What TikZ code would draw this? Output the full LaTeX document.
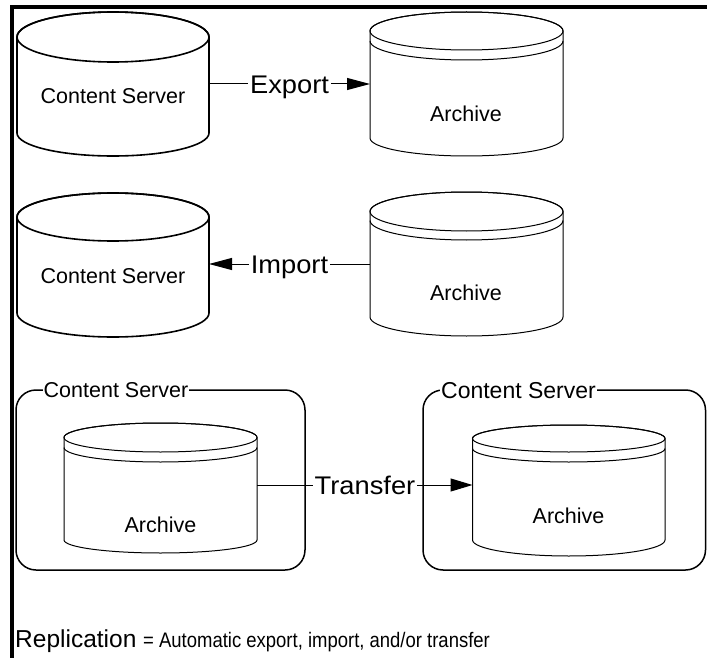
\documentclass[tikz,border=0pt]{standalone}
\usepackage{fontspec}
\setmainfont{Liberation Sans}
\newfontfamily\lblfont[FakeStretch=1.07]{Liberation Sans}
\newfontfamily\notefont[FakeStretch=0.88]{Liberation Sans}
\usetikzlibrary{arrows.meta}
\newcommand\cylshape[7]{%
  \pgfmathsetmacro\cylrx{(#2-#1)/2}%
  \pgfmathsetmacro\cylcx{(#2+#1)/2}%
  \draw[#7,fill=white] (#1,-#4) -- (#1,-#3) arc[start angle=180,end angle=0,x radius=\cylrx,y radius=#5] -- (#2,-#4) arc[start angle=0,end angle=-180,x radius=\cylrx,y radius=#6] -- cycle;
  \draw[#7] (\cylcx,-#3) ellipse[x radius=\cylrx,y radius=#5];
}
\newcommand\cylband[5]{%
  \pgfmathsetmacro\cylrx{(#2-#1)/2}%
  \draw[#5] (#1,-#3) arc[start angle=180,end angle=360,x radius=\cylrx,y radius=#4];
}
\begin{document}
\begin{tikzpicture}[x=1pt,y=1pt,
  thickline/.style={line width=1.6pt},
  thinline/.style={line width=1pt},
  body/.style={inner sep=0pt,outer sep=0pt,draw=none},
  cstext/.style={font=\fontsize{21.5}{21.5}\selectfont,inner sep=0pt,text height=15.4pt,text depth=0pt},
  lbl/.style={font=\lblfont\fontsize{25.5}{25.5}\selectfont,inner xsep=2pt,inner ysep=0pt,text height=18.2pt,text depth=0pt},
  boxlbl/.style={fill=white,inner xsep=1pt,inner ysep=1pt,text height=15.4pt,text depth=0pt},
  srvbox/.style={draw,line width=1.5pt,rounded corners=20pt,inner sep=0pt},
  conn/.style={line width=1pt},
  tip/.style={-{Triangle[length=23pt,width=12pt]}}
]
\useasboundingbox (0,0) rectangle (707,-658);
% frame
\draw[line width=3.5pt] (12,-658) -- (12,-7) -- (707,-7);

% row 1
\cylshape{17}{209}{37}{133}{25}{23}{thickline}
\node[body,minimum width=192pt,minimum height=96pt] (cs1) at (113,-85) {};
\node[cstext] (cs1t) at (113,-96) {Content Server};
\cylshape{370}{563}{31}{138}{19}{18}{thinline}
\cylband{370}{563}{41}{19}{thinline}
\node[body,minimum width=193pt,minimum height=106pt] (ar1) at (466.5,-84.5) {};
\node[cstext] (ar1t) at (466,-113.5) {Archive};
\node[lbl] (exp) at (289.5,-84) {Export};
\draw[conn] (cs1.east |- exp.west) -- (exp.west);
\draw[conn,tip] (exp.east) -- (ar1.west |- exp.east);

% row 2
\cylshape{17}{209}{217}{313}{24}{24}{thickline}
\node[body,minimum width=192pt,minimum height=96pt] (cs2) at (113,-265) {};
\node[cstext] (cs2t) at (113,-275.5) {Content Server};
\cylshape{370}{563}{211.5}{317}{19.5}{19}{thinline}
\cylband{370}{563}{220.5}{19.5}{thinline}
\node[body,minimum width=193pt,minimum height=105pt] (ar2) at (466.5,-264) {};
\node[cstext] (ar2t) at (466,-292.5) {Archive};
\node[lbl] (imp) at (289.5,-264) {Import};
\draw[conn,tip] (imp.west) -- (cs2.east |- imp.west);
\draw[conn] (ar2.west |- imp.east) -- (imp.east);

% row 3
\node[srvbox,minimum width=289pt,minimum height=180pt] (box1) at (160.5,-480) {};
\node[boxlbl,font=\fontsize{21.5}{21.5}\selectfont] (box1t) at (116,-390) {Content Server};
\cylshape{64}{257}{437.5}{540}{14.5}{13}{thinline}
\cylband{64}{257}{447.5}{14.5}{thinline}
\node[body,minimum width=193pt,minimum height=102pt] (ar3) at (160.5,-486) {};
\node[cstext] (ar3t) at (160.5,-525) {Archive};

\node[srvbox,minimum width=282.5pt,minimum height=180pt] (box2) at (564.25,-480) {};
\node[boxlbl,font=\fontsize{23}{23}\selectfont,text height=16.5pt] (box2t) at (518.5,-390) {Content Server};
\cylshape{472.5}{665}{438.5}{540}{13.5}{16}{thinline}
\cylband{472.5}{665}{448.5}{13.5}{thinline}
\node[body,minimum width=192.5pt,minimum height=102pt] (ar4) at (568.75,-486) {};
\node[cstext] (ar4t) at (568.5,-515.5) {Archive};

\node[lbl] (trf) at (365,-485) {Transfer};
\draw[conn] (ar3.east |- trf.west) -- (trf.west);
\draw[conn,-{Triangle[length=22pt,width=13pt]}] (trf.east) -- (ar4.west |- trf.east);

% note
\node[anchor=base west,inner sep=0pt] (note) at (15,-647) {\fontsize{24.5}{24.5}\selectfont Replication {\notefont\fontsize{21}{21}\selectfont = Automatic export, import, and/or transfer}};
\end{tikzpicture}
\end{document}
